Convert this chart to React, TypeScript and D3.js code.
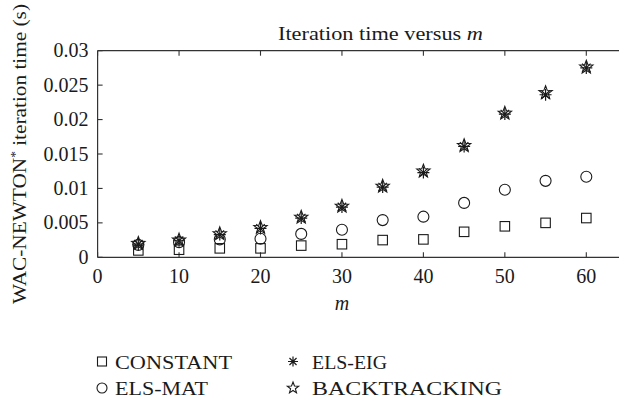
import React from "react";
import * as d3 from "d3";

const mValues = [5, 10, 15, 20, 25, 30, 35, 40, 45, 50, 55, 60];
const constant = [0.0010, 0.0011, 0.0013, 0.0013, 0.0017, 0.0019, 0.0025, 0.0026, 0.0037, 0.0045, 0.0050, 0.0057];
const elsMat = [0.0018, 0.0022, 0.0026, 0.0027, 0.0034, 0.0040, 0.0054, 0.0059, 0.0079, 0.0098, 0.0111, 0.0117];
const elsEig = [0.0019, 0.0024, 0.0033, 0.0042, 0.0057, 0.0073, 0.0102, 0.0123, 0.0161, 0.0208, 0.0236, 0.0275];
const backtracking = [0.0020, 0.0025, 0.0034, 0.0043, 0.0058, 0.0074, 0.0103, 0.0125, 0.0162, 0.0209, 0.0239, 0.0276];
const xTicks = [0, 10, 20, 30, 40, 50, 60];
const yTicks = [0, 0.005, 0.01, 0.015, 0.02, 0.025, 0.03];
const yTickLabels = ["0", "0.005", "0.01", "0.015", "0.02", "0.025", "0.03"];

const W = 619;
const H = 405;
const FONT = "Liberation Serif, Times New Roman, serif";
const INK = "#1a1a1a";

const x = d3.scaleLinear().domain([0, 60]).range([97.6, 586.3]);
const y = d3.scaleLinear().domain([0, 0.03]).range([257.3, 50.7]);

function starPath(r: number) {
  const pts: [number, number][] = [];
  const ri = r * 0.42;
  for (let i = 0; i < 10; i++) {
    const a = -Math.PI / 2 + (i * Math.PI) / 5;
    const rr = i % 2 === 0 ? r : ri;
    pts.push([rr * Math.cos(a), rr * Math.sin(a)]);
  }
  return d3.line()(pts)! + "Z";
}

function asteriskPath(r: number) {
  const d = r * Math.SQRT1_2;
  return `M0,${-r}V${r}M${-r},0H${r}M${-d},${-d}L${d},${d}M${-d},${d}L${d},${-d}`;
}

const Square = ({ cx, cy, s }: { cx: number; cy: number; s: number }) => (
  <rect x={cx - s / 2} y={cy - s / 2} width={s} height={s} fill="none" stroke={INK} strokeWidth={1.1} />
);
const Circle = ({ cx, cy, r }: { cx: number; cy: number; r: number }) => (
  <circle cx={cx} cy={cy} r={r} fill="none" stroke={INK} strokeWidth={1.1} />
);
const Asterisk = ({ cx, cy, r }: { cx: number; cy: number; r: number }) => (
  <path d={asteriskPath(r)} transform={`translate(${cx},${cy})`} fill="none" stroke={INK} strokeWidth={1.2} />
);
const Star = ({ cx, cy, r }: { cx: number; cy: number; r: number }) => (
  <path d={starPath(r)} transform={`translate(${cx},${cy})`} fill="none" stroke={INK} strokeWidth={1.1} />
);

export default function App() {
  const x0 = 97.6;
  const xEnd = 625;
  const yTop = 50.7;
  const yBot = 257.3;
  return (
    <svg width={W} height={H} style={{ position: "absolute", left: 0, top: 0, background: "#fff" }} fontFamily={FONT}>
      <rect width={W} height={H} fill="#fff" />
      <line x1={x0} y1={yTop} x2={xEnd} y2={yTop} stroke="#333" strokeWidth={1.2} />
      <line x1={x0} y1={yBot} x2={xEnd} y2={yBot} stroke="#333" strokeWidth={1.2} />
      <line x1={x0} y1={yTop} x2={x0} y2={yBot} stroke="#333" strokeWidth={1.2} />
      {xTicks.map((t) => (
        <g key={"xt" + t}>
          <line x1={x(t)} x2={x(t)} y1={yBot} y2={yBot - 5} stroke="#333" strokeWidth={1.1} />
          <line x1={x(t)} x2={x(t)} y1={yTop} y2={yTop + 5} stroke="#333" strokeWidth={1.1} />
          <text x={x(t)} y={282.5} textAnchor="middle" fontSize={20} fill={INK}>
            {t}
          </text>
        </g>
      ))}
      {yTicks.map((t, i) => (
        <g key={"yt" + i}>
          <line x1={x0} x2={x0 + 5} y1={y(t)} y2={y(t)} stroke="#333" strokeWidth={1.1} />
          <text x={88.5} y={y(t) + 6.5} textAnchor="end" fontSize={20} fill={INK}>
            {yTickLabels[i]}
          </text>
        </g>
      ))}
      <text x={380.5} y={39.5} textAnchor="middle" fontSize={19} fill={INK} textLength={205} lengthAdjust="spacingAndGlyphs">
        Iteration time versus <tspan fontStyle="italic">m</tspan>
      </text>
      <text x={342} y={310} textAnchor="middle" fontSize={20} fontStyle="italic" fill={INK}>
        m
      </text>
      <text
        transform="translate(26,154) rotate(-90)"
        textAnchor="middle"
        fontSize={19}
        fill={INK}
        textLength={300}
        lengthAdjust="spacingAndGlyphs"
      >
        WAC-NEWTON<tspan fontSize={12} dy={-7}>*</tspan>
        <tspan dy={7}> iteration time (s)</tspan>
      </text>
      {mValues.map((m, i) => (
        <Square key={"c" + i} cx={x(m)} cy={y(constant[i])} s={9.5} />
      ))}
      {mValues.map((m, i) => (
        <Circle key={"e" + i} cx={x(m)} cy={y(elsMat[i])} r={5.5} />
      ))}
      {mValues.map((m, i) => (
        <Asterisk key={"g" + i} cx={x(m)} cy={y(elsEig[i])} r={6} />
      ))}
      {mValues.map((m, i) => (
        <Star key={"b" + i} cx={x(m)} cy={y(backtracking[i])} r={7} />
      ))}
      <Square cx={102} cy={361.5} s={9} />
      <text x={115} y={368.5} fontSize={19} fill={INK} textLength={117} lengthAdjust="spacingAndGlyphs">
        CONSTANT
      </text>
      <Circle cx={102} cy={388} r={5} />
      <text x={115} y={394.5} fontSize={19} fill={INK} textLength={93} lengthAdjust="spacingAndGlyphs">
        ELS-MAT
      </text>
      <Asterisk cx={293} cy={361.5} r={5} />
      <text x={312} y={368.5} fontSize={19} fill={INK} textLength={75} lengthAdjust="spacingAndGlyphs">
        ELS-EIG
      </text>
      <Star cx={293} cy={388} r={6} />
      <text x={312} y={394.5} fontSize={19} fill={INK} textLength={190} lengthAdjust="spacingAndGlyphs">
        BACKTRACKING
      </text>
    </svg>
  );
}
